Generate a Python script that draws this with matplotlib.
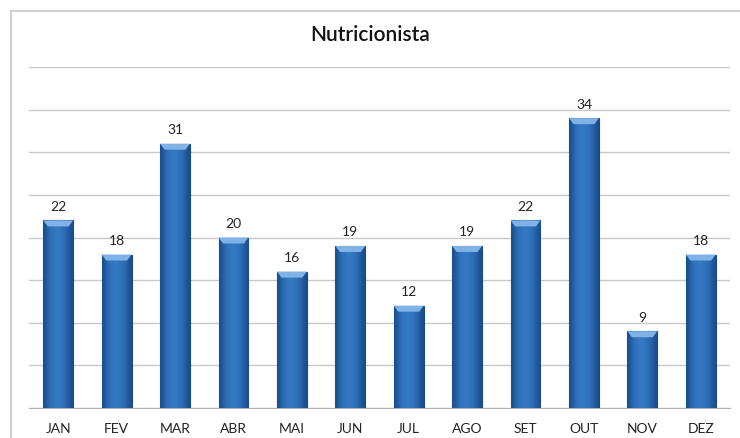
import numpy as np
import matplotlib
matplotlib.use("Agg")
import matplotlib.pyplot as plt
from matplotlib.patches import Rectangle, Polygon

months = ['JAN', 'FEV', 'MAR', 'ABR', 'MAI', 'JUN', 'JUL', 'AGO', 'SET', 'OUT', 'NOV', 'DEZ']
values = [22, 18, 31, 20, 16, 19, 12, 19, 22, 34, 9, 18]

plt.rcParams['font.family'] = ['Lato', 'DejaVu Sans']

fig = plt.figure(figsize=(7.4, 4.39), dpi=100)
fig.patch.set_facecolor('white')
# outer chart frame, runs off right/bottom like the screenshot
fig.patches.append(Rectangle((11/740, -0.02), 1.0, 1 - 12/439 + 0.02,
                             transform=fig.transFigure, fill=False,
                             edgecolor='#d0d0d0', linewidth=1.5))

ax = fig.add_axes([29/740, 1 - 409/439, 701/740, (409 - 68)/439])
x = np.arange(len(months))
bars = ax.bar(x, values, width=0.51, color='#2c6cb5', edgecolor='#1a4a85',
              linewidth=0.8, zorder=3)

# horizontal shading on each bar
grad = np.array([[0.0, 0.6, 0.85, 0.95, 0.9, 0.75, 0.45, 0.0]])
cmap = matplotlib.colors.LinearSegmentedColormap.from_list('b', ['#1b4f8f', '#3479c4'])
for b in bars:
    x0, w, h = b.get_x(), b.get_width(), b.get_height()
    im = ax.imshow(grad, cmap=cmap, aspect='auto', extent=(x0, x0 + w, 0, h),
                   zorder=3.5, interpolation='bicubic')
    im.set_clip_path(b)
    # bevel trapezoid at the top
    ax.add_patch(Polygon([(x0, h), (x0 + w, h), (x0 + w*0.85, h - 0.7), (x0 + w*0.15, h - 0.7)],
                         closed=True, facecolor='#7fb2e6', edgecolor='none', zorder=4))
    ax.text(x0 + w/2, h + 1.0, str(int(h)), ha='center', va='bottom',
            fontsize=10, color='#222222', zorder=5)

ax.set_xlim(-0.5, len(months) - 0.5)
ax.set_ylim(0, 40)
ax.set_yticks(np.arange(0, 41, 5))
ax.set_yticklabels([])
ax.tick_params(axis='y', length=0)
ax.set_xticks(x)
ax.set_xticklabels(months, fontsize=10, color='#222222')
ax.tick_params(axis='x', length=0, pad=10)
ax.grid(axis='y', color='#c8c8c8', linewidth=1, zorder=0)
for s in ['top', 'right', 'left']:
    ax.spines[s].set_visible(False)
ax.spines['bottom'].set_color('#b0b0b0')

fig.text(0.5, 1 - 35/439, 'Nutricionista', ha='center', va='center',
         fontsize=15, color='#111111', fontweight='semibold')

fig.savefig('out.png', dpi=100, facecolor='white')
